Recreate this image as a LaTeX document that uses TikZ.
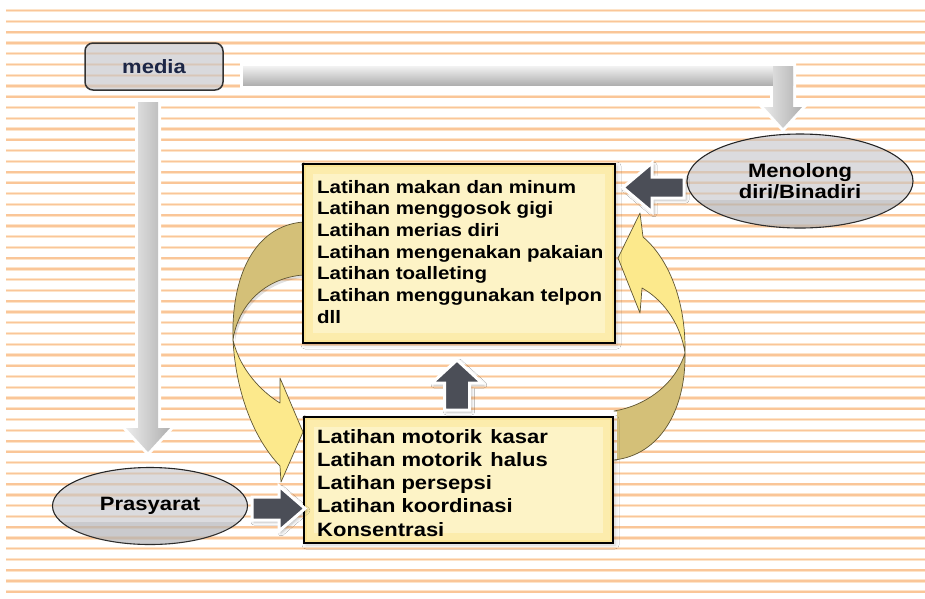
\documentclass[tikz,border=0pt]{standalone}
\usepackage{fontspec}
\setmainfont{Liberation Sans}
\newfontfamily\lsx[FakeStretch=1.14]{Liberation Sans}
\usetikzlibrary{shadows.blur,shapes.geometric,calc}
\definecolor{bglineA}{RGB}{253,228,202}
\definecolor{bglineB}{RGB}{250,198,152}
\definecolor{ylight}{RGB}{252,233,140}
\definecolor{ydark}{RGB}{212,192,120}
\definecolor{yedge}{RGB}{95,85,50}
\definecolor{boxfill}{RGB}{250,228,150}
\definecolor{boxmid}{RGB}{252,236,172}
\definecolor{boxin}{RGB}{253,243,198}
\definecolor{darrow}{RGB}{75,78,87}
\definecolor{navy}{RGB}{28,38,70}
\definecolor{ovalgray}{RGB}{198,198,202}
\begin{document}
\begin{tikzpicture}[x=1pt,y=-1pt,
  topline/.style={anchor=base west, inner sep=0pt, font={\lsx\bfseries\fontsize{18}{21}\selectfont}},
  botline/.style={anchor=base west, inner sep=0pt, font={\lsx\bfseries\fontsize{19.3}{22}\selectfont}},
  ybox/.style={rectangle, draw=black, line width=2pt, fill=boxfill, inner sep=0pt,
    blur shadow={shadow xshift=2pt, shadow yshift=-2pt, shadow blur radius=4pt, shadow opacity=20}},
  oval/.style={ellipse, draw=black!85, line width=1.1pt, fill=ovalgray,
    fill opacity=0.62, text opacity=1, inner sep=0pt, align=center,
    font={\lsx\bfseries\fontsize{19.3}{21.5}\selectfont}},
  lower/.style={fill=gray, fill opacity=0.18},
  darkarrow/.style={fill=darrow, draw=white, line width=3pt, line join=miter,
    blur shadow={shadow xshift=2pt, shadow yshift=-2pt, shadow blur radius=3pt, shadow opacity=30}},
  yband/.style={draw=yedge, line width=0.7pt, line join=round}
]
\useasboundingbox (0,0) rectangle (925,598);
\fill[white] (0,0) rectangle (925,598);
% background stripes
\foreach \k in {0,...,54}{
  \draw[bglineA, line width=3.2pt] (6,{10.7+10.76*\k}) -- (925,{10.7+10.76*\k});
  \draw[bglineB, line width=1.5pt] (6,{10.7+10.76*\k}) -- (925,{10.7+10.76*\k});
}
% curved arrows: back (dark) bands
\fill[black, opacity=0.12] (309,224) .. controls (257,228) and (233,277) .. (235,342)
   .. controls (240,307) and (267,280) .. (309,277) -- cycle;
\filldraw[yband, fill=ydark] (307,222) -- (303,222) .. controls (255,226) and (231,275) .. (233,340)
   .. controls (238,305) and (265,278) .. (303,275) -- (307,275);
\filldraw[yband, fill=ydark] (617,460) -- (614,460) .. controls (660,455) and (686,410) .. (685,353)
   .. controls (675,385) and (645,406) .. (614,411) -- (617,411);
% curved arrows: front (light) bands
\filldraw[yband, fill=ylight] (233,340) .. controls (236,395) and (255,440) .. (280,466)
   -- (281,482) -- (303,432) -- (280,378) -- (280,403)
   .. controls (262,392) and (240,370) .. (233,340) -- cycle;
\filldraw[yband, fill=ylight] (685,353) .. controls (686,300) and (668,258) .. (643,237)
   -- (640,213) -- (618,258) -- (640,313) -- (642,288)
   .. controls (660,298) and (680,320) .. (685,353) -- cycle;
% yellow boxes
\node[ybox, minimum width=312, minimum height=179] (top) at (459,253.5) {};
\fill[boxmid] ($(top.north west)+(4,4)$) rectangle ($(top.south east)+(-4,-4)$);
\fill[boxin] ($(top.north west)+(11,11)$) rectangle ($(top.south east)+(-11,-11)$);
\node[ybox, minimum width=309, minimum height=126] (bot) at (458.5,480) {};
\fill[boxmid] ($(bot.north west)+(4,4)$) rectangle ($(bot.south east)+(-4,-4)$);
\fill[boxin] ($(bot.north west)+(11,11)$) rectangle ($(bot.south east)+(-11,-11)$);
\foreach \t [count=\i] in {Latihan makan dan minum, Latihan menggosok gigi, Latihan merias diri,
   Latihan mengenakan pakaian, Latihan toalleting, Latihan menggunakan telpon, dll}
  \node[topline] (tl\i) at (317,{193+21.67*(\i-1)}) {\t};
\foreach \t [count=\i] in {Latihan motorik\hspace{0.42em}kasar, Latihan motorik\hspace{0.42em}halus,
   Latihan persepsi, Latihan koordinasi, Konsentrasi}
  \node[botline] (bl\i) at (317,{443+23.25*(\i-1)}) {\t};
% ellipses
\node[oval, minimum width=226, minimum height=94] (meno) at (800,181) {Menolong\\diri/Binadiri};
\begin{scope}
  \clip (meno.center) ellipse [x radius=113, y radius=47];
  \fill[lower] (687,200) rectangle (913,228);
\end{scope}
\node[oval, minimum width=195, minimum height=77] (pras) at (150,506) {Prasyarat};
\begin{scope}
  \clip (pras.center) ellipse [x radius=97.5, y radius=38.5];
  \fill[lower] (52,522) rectangle (248,545);
\end{scope}
% media box
\node[rectangle, rounded corners=8pt, draw=black!80, line width=1.5pt,
  fill=ovalgray, fill opacity=0.65, text opacity=1, text=navy,
  minimum width=138, minimum height=47, font={\lsx\bfseries\fontsize{19.3}{21}\selectfont}]
  (media) at (154,66.5) {media};
% gray arrow media -> Menolong
\draw[white, line width=6pt, line join=miter] (243,66) -- (793,66) -- (793,107) -- (802,107) -- (783,128)
  -- (764,107) -- (773,107) -- (773,85) -- (243,85) -- cycle;
\shade[top color=gray!10, bottom color=gray!62] (243,66) rectangle (793,85);
\shade[left color=gray!18, right color=gray!62] (773,66) -- (793,66) -- (793,107) -- (802,107)
  -- (783,128) -- (764,107) -- (773,107) -- cycle;
% gray arrow media -> Prasyarat
\draw[white, line width=6pt, line join=miter] (138,102) -- (158,102) -- (158,428) -- (170,428)
  -- (148,452) -- (126,428) -- (138,428) -- cycle;
\shade[left color=gray!15, right color=gray!62] (138,102) -- (158,102) -- (158,428) -- (170,428)
  -- (148,452) -- (126,428) -- (138,428) -- cycle;
% dark block arrows
\path[darkarrow] (623,187.5) -- (652,163) -- (652,177) -- (684,177) -- (684,198) -- (652,198)
  -- (652,212) -- cycle;
\path[darkarrow] (457,360) -- (482,383) -- (469.5,383) -- (469.5,410) -- (444.5,410) -- (444.5,383)
  -- (432,383) -- cycle;
\path[darkarrow] (305,508.5) -- (279,486) -- (279,497) -- (252,497) -- (252,520) -- (279,520)
  -- (279,531) -- cycle;
\end{tikzpicture}
\end{document}
